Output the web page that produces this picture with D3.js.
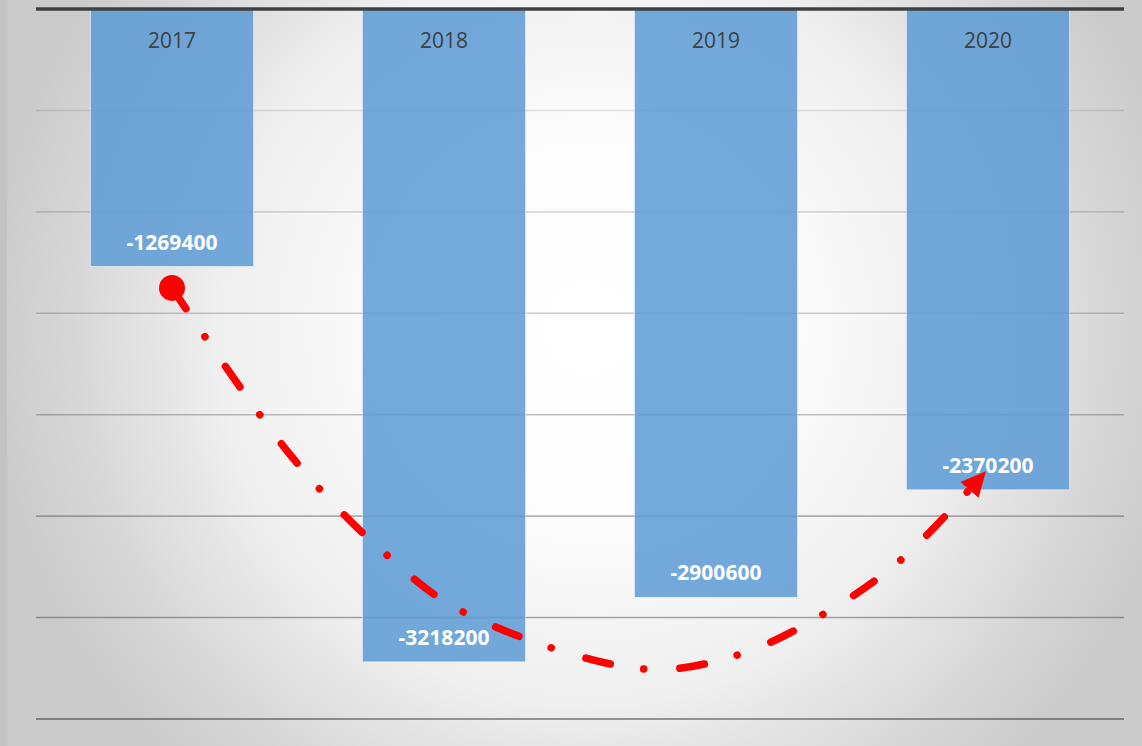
<!DOCTYPE html>
<html>
<head>
<meta charset="utf-8">
<script src="https://cdn.jsdelivr.net/npm/d3@7"></script>
<style>
  html, body { margin: 0; padding: 0; background: #ffffff; }
  svg { display: block; }
  text { font-family: "Open Sans", "Noto Sans", sans-serif; }
</style>
</head>
<body>
<svg id="chart" width="1142" height="746"></svg>
<script>
// Annual results (all negative)
const years = ["2017", "2018", "2019", "2020"];
const values = [-1269400, -3218200, -2900600, -2370200];
const gridTicks = [-3500000, -3000000, -2500000, -2000000, -1500000, -1000000, -500000];

// Trend annotation: waypoints as (category position, value)
const trendPos = [0, 0.45, 0.79, 1.07, 1.73, 2.08, 2.39, 2.68, 2.99];
const trendVal = [-1375000, -2223000, -2692000, -2972000, -3253000, -3184000, -2987000, -2716000, -2282000];

const W = 1142, H = 746;
const plot = { left: 36, right: 1124, top: 9, bottom: 719 };

const svg = d3.select("#chart");
const defs = svg.append("defs");

// soft radial backdrop
const bg = defs.append("radialGradient").attr("id", "bgGrad")
  .attr("gradientUnits", "userSpaceOnUse")
  .attr("cx", 590).attr("cy", 330).attr("r", 600).attr("fx", 590).attr("fy", 330);
[[0, "#ffffff"], [0.3, "#fdfdfd"], [0.62, "#efefef"], [0.85, "#d8d8d8"], [1, "#cbcbcb"]]
  .forEach(([o, c]) => bg.append("stop").attr("offset", o).attr("stop-color", c));

// gridlines get stronger toward the bottom
const gg = defs.append("linearGradient").attr("id", "gridGrad")
  .attr("gradientUnits", "userSpaceOnUse")
  .attr("x1", 0).attr("y1", 100).attr("x2", 0).attr("y2", 720);
gg.append("stop").attr("offset", 0).attr("stop-color", "#000").attr("stop-opacity", 0.1);
gg.append("stop").attr("offset", 1).attr("stop-color", "#000").attr("stop-opacity", 0.38);

svg.append("rect").attr("x", 0).attr("y", 0).attr("width", W).attr("height", H).attr("fill", "url(#bgGrad)");
svg.append("rect").attr("x", 0).attr("y", 0).attr("width", 7).attr("height", H).attr("fill", "#c2c2c2");

const x = d3.scaleBand().domain(years).range([plot.left, plot.right])
  .paddingInner(0.4).paddingOuter(0.2);
const y = d3.scaleLinear().domain([-3500000, 0]).range([plot.bottom, plot.top]);
const xPos = d3.scaleLinear().domain([0, years.length - 1])
  .range([x(years[0]) + x.bandwidth() / 2, x(years[years.length - 1]) + x.bandwidth() / 2]);

// horizontal gridlines
svg.append("g").selectAll("line").data(gridTicks).join("line")
  .attr("x1", plot.left).attr("x2", plot.right)
  .attr("y1", d => y(d)).attr("y2", d => y(d))
  .attr("stroke", "url(#gridGrad)")
  .attr("stroke-width", (d, i) => i === 0 ? 2 : 1.6);

// bars hang down from zero
svg.append("g").selectAll("rect").data(years).join("rect")
  .attr("x", d => x(d))
  .attr("y", y(0))
  .attr("width", x.bandwidth())
  .attr("height", (d, i) => y(values[i]) - y(0))
  .attr("fill", "#5b9bd5")
  .attr("fill-opacity", 0.85)
  .attr("stroke", "rgba(255,255,255,0.55)")
  .attr("stroke-width", 1);

// zero axis at the top
svg.append("line")
  .attr("x1", plot.left).attr("x2", plot.right)
  .attr("y1", y(0)).attr("y2", y(0))
  .attr("stroke", "#404040").attr("stroke-width", 3.5);

// category labels at the top of each bar
svg.append("g").selectAll("text").data(years).join("text")
  .attr("x", d => x(d) + x.bandwidth() / 2)
  .attr("y", y(0) + 39)
  .attr("text-anchor", "middle")
  .attr("font-size", 21)
  .attr("fill", "#404040")
  .text(d => d);

// value labels inside the bar ends
svg.append("g").selectAll("text").data(years).join("text")
  .attr("x", d => x(d) + x.bandwidth() / 2)
  .attr("y", (d, i) => y(values[i]) - 17)
  .attr("text-anchor", "middle")
  .attr("font-size", 21)
  .attr("font-weight", 700)
  .attr("fill", "#ffffff")
  .text((d, i) => values[i]);

// trend arrow
const arrow = defs.append("marker").attr("id", "arrowHead")
  .attr("markerUnits", "userSpaceOnUse")
  .attr("viewBox", "0 0 25 24")
  .attr("markerWidth", 25).attr("markerHeight", 24)
  .attr("refX", 24).attr("refY", 12)
  .attr("orient", "auto");
arrow.append("path").attr("d", "M0,0 L25,12 L0,24 Z").attr("fill", "#ff0000");

const trendPts = trendPos.map((p, i) => [xPos(p), y(trendVal[i])]);
const line = d3.line().curve(d3.curveCatmullRom.alpha(0.5));

svg.append("path")
  .attr("d", line(trendPts))
  .attr("fill", "none")
  .attr("stroke", "#ff0000")
  .attr("stroke-width", 7.5)
  .attr("stroke-linecap", "round")
  .attr("stroke-dasharray", "25,34,0.1,36")
  .attr("marker-end", "url(#arrowHead)");

svg.append("circle")
  .attr("cx", trendPts[0][0]).attr("cy", trendPts[0][1])
  .attr("r", 13).attr("fill", "#ff0000");
</script>
</body>
</html>
